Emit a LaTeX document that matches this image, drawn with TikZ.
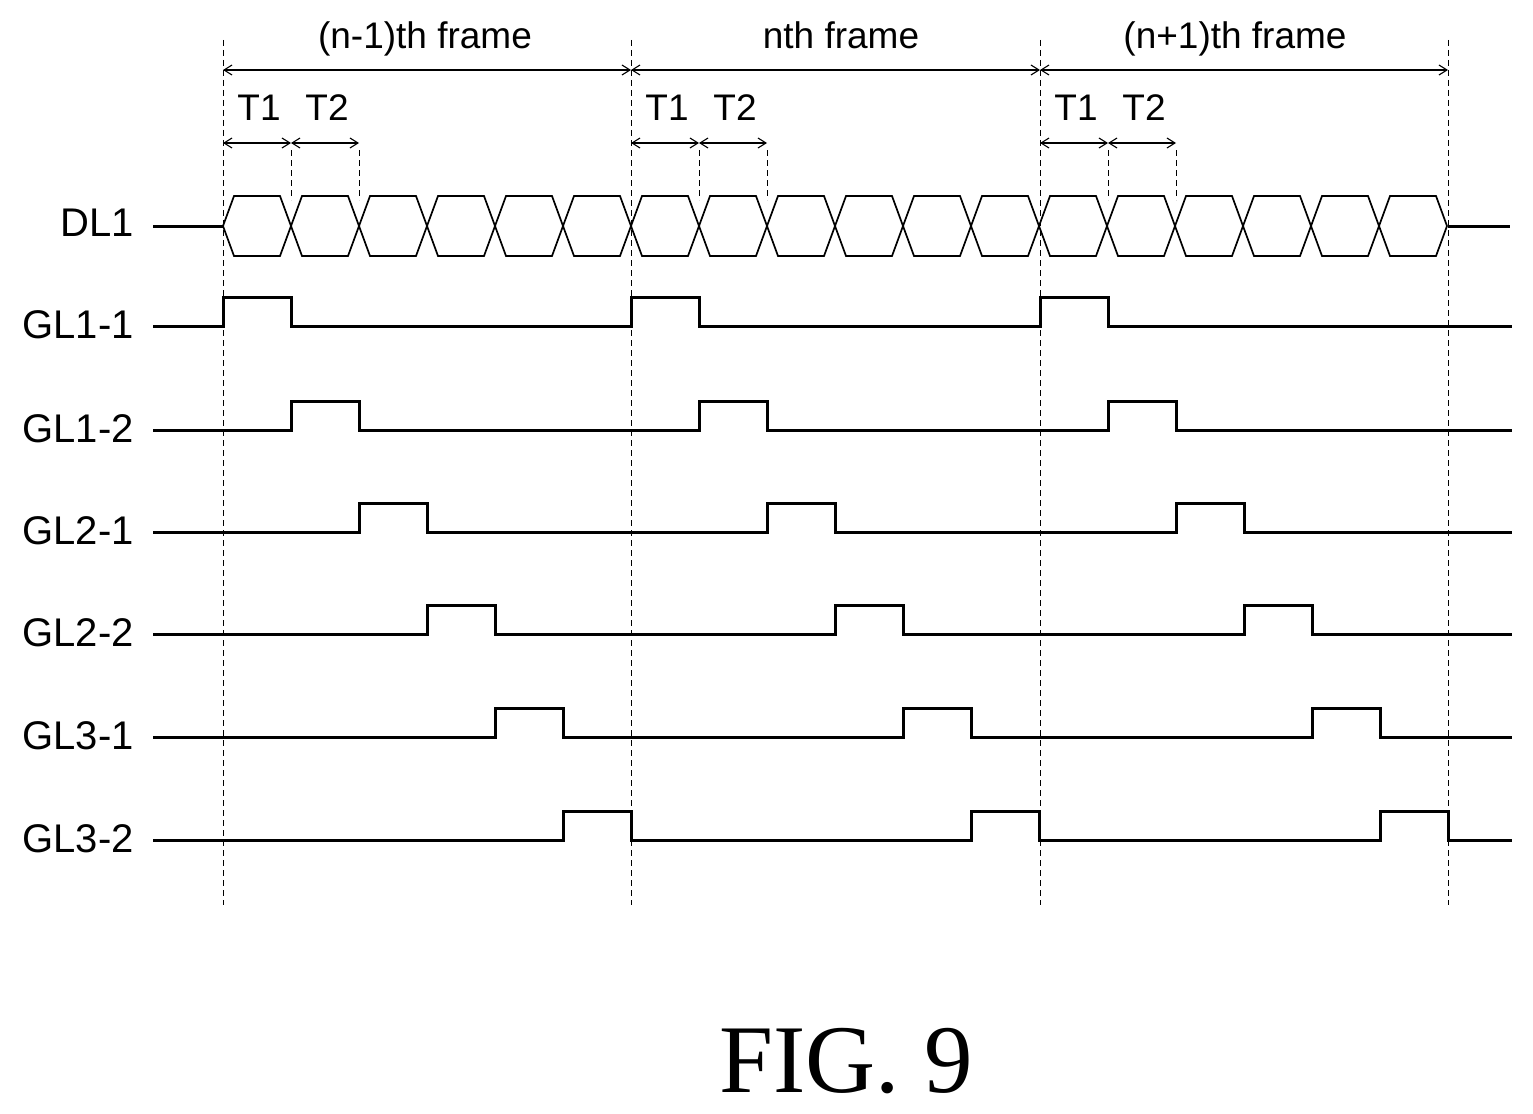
\documentclass[tikz,border=0pt]{standalone}
\usepackage{fontspec}
\setmainfont{Liberation Sans}
\newfontfamily\figfont{Liberation Serif}
\usetikzlibrary{arrows.meta}
\begin{document}
\begin{tikzpicture}[x=1pt,y=-1pt,
  sig/.style={line width=3pt},
  dim/.style={line width=1.1pt,{Straight Barb[length=8pt,width=10pt]}-{Straight Barb[length=8pt,width=10pt]}},
  vdash/.style={line width=0.8pt,dash pattern=on 6pt off 4pt},
  lab/.style={font=\fontsize{37}{40}\selectfont,inner sep=0pt,anchor=base},
  lbl/.style={lab,anchor=base east,font=\fontsize{40}{44}\selectfont}]
\useasboundingbox (0,0) rectangle (1533,1113);
\foreach \x in {223,631,1040,1448} \draw[vdash] (\x,40) -- (\x,905);
\foreach \x in {291,359,699,767,1108,1176} \draw[vdash] (\x,150) -- (\x,200);
\coordinate (f0) at (223,70); \coordinate (f1) at (631,70);
\coordinate (f2) at (1040,70); \coordinate (f3) at (1448,70);
\draw[dim] (f0) -- (f1); \draw[dim] (f1) -- (f2); \draw[dim] (f2) -- (f3);
\node[lab] (fa) at (425,49) {(n-1)th frame};
\node[lab] (fb) at (841,49) {nth frame};
\node[lab] (fc) at (1235,49) {(n+1)th frame};
\foreach \s/\i in {223/a,631/b,1040/c}{
  \coordinate (t0\i) at (\s,143);
  \coordinate (t1\i) at ({\s+68},143);
  \coordinate (t2\i) at ({\s+136},143);
  \draw[dim] (t0\i) -- (t1\i); \draw[dim] (t1\i) -- (t2\i);
  \node[lab] (T1\i) at ({\s+36},121) {T1};
  \node[lab] (T2\i) at ({\s+104},121) {T2};
}
\node[lbl] (dl) at (134,236) {DL1};
\draw[sig] (153,226) -- (223,226);
\draw[sig] (1448,226) -- (1510,226);
\foreach \k in {0,...,17}{
  \pgfmathsetmacro\a{223+68*\k}
  \pgfmathsetmacro\b{\a+68}
  \draw[line width=1.7pt,line join=miter] (\a,226) -- (\a+11,196) -- (\b-11,196) -- (\b,226) -- (\b-11,256) -- (\a+11,256) -- cycle;
}
\foreach \name/\yl/\off in {GL1-1/326/0,GL1-2/430/1,GL2-1/532/2,GL2-2/634/3,GL3-1/737/4,GL3-2/840/5}{
  \node[lbl] at (134,{\yl+12}) {\name};
  \pgfmathsetmacro\yh{\yl-29}
  \pgfmathsetmacro\pa{223+68*\off}
  \pgfmathsetmacro\pb{\pa+408}
  \pgfmathsetmacro\pc{\pa+817}
  \draw[sig,line join=miter] (153,\yl)
    -- (\pa,\yl) -- (\pa,\yh) -- (\pa+68,\yh) -- (\pa+68,\yl)
    -- (\pb,\yl) -- (\pb,\yh) -- (\pb+68,\yh) -- (\pb+68,\yl)
    -- (\pc,\yl) -- (\pc,\yh) -- (\pc+68,\yh) -- (\pc+68,\yl)
    -- (1512,\yl);
}
\node[inner sep=0pt,anchor=base,font=\figfont\fontsize{97}{100}\selectfont] (fig) at (846,1092) {FIG. 9};
\end{tikzpicture}
\end{document}
